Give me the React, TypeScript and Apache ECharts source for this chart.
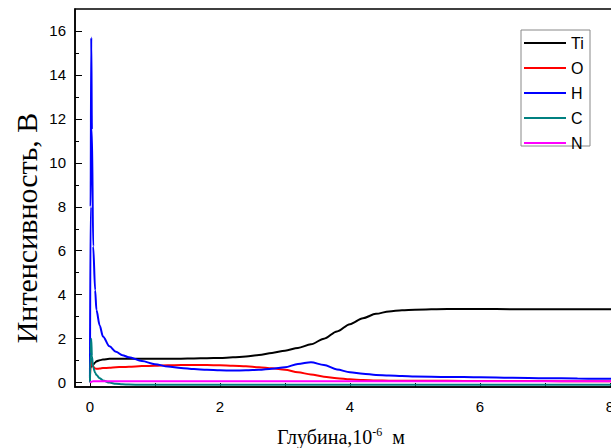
import React, { useEffect, useRef } from "react";
import * as echarts from "echarts";

// Depth, 10^-6 m
const depth = [
  0, 0.01, 0.02, 0.03, 0.05, 0.08, 0.1, 0.15, 0.2, 0.3, 0.4, 0.5, 0.6, 0.8,
  1.0, 1.2, 1.4, 1.6, 1.8, 2.0, 2.2, 2.4, 2.6, 2.8, 3.0, 3.2, 3.4, 3.6, 3.8, 4.0,
  4.2, 4.4, 4.6, 4.8, 5.0, 5.5, 6.0, 6.5, 7.0, 7.5, 8.0, 8.3,
];

const tiValues = [
  0.7, 0.7, 0.72, 0.75, 0.82, 0.92, 0.97, 1.02, 1.05, 1.08, 1.09, 1.09, 1.09, 1.09,
  1.09, 1.09, 1.09, 1.1, 1.11, 1.12, 1.15, 1.19, 1.26, 1.35, 1.45, 1.58, 1.74, 2.0, 2.33, 2.66,
  2.93, 3.13, 3.24, 3.29, 3.32, 3.35, 3.35, 3.34, 3.34, 3.34, 3.34, 3.34,
];

const oValues = [
  0.3, 0.7, 1.0, 0.9, 0.72, 0.64, 0.63, 0.64, 0.66, 0.68, 0.7, 0.71, 0.72, 0.75,
  0.77, 0.79, 0.8, 0.8, 0.8, 0.79, 0.77, 0.74, 0.7, 0.65, 0.59, 0.47, 0.37, 0.27, 0.2, 0.15,
  0.12, 0.1, 0.09, 0.085, 0.08, 0.08, 0.07, 0.07, 0.07, 0.06, 0.06, 0.06,
];

const hValues = [
  0.2, 8.0, 15.7, 11.5, 6.2, 4.2, 3.3, 2.6, 2.1, 1.65, 1.4, 1.25, 1.15, 0.98,
  0.84, 0.73, 0.67, 0.62, 0.58, 0.56, 0.55, 0.56, 0.58, 0.63, 0.7, 0.85, 0.93, 0.8, 0.6, 0.47,
  0.4, 0.35, 0.32, 0.3, 0.28, 0.26, 0.24, 0.22, 0.2, 0.19, 0.17, 0.16,
];

const cValues = [
  0.0, 1.3, 2.0, 1.2, 0.7, 0.45, 0.35, 0.2, 0.1, 0.0, -0.05, -0.08, -0.09, -0.1,
  -0.1, -0.1, -0.1, -0.1, -0.1, -0.1, -0.1, -0.1, -0.1, -0.1, -0.1, -0.1, -0.1, -0.1, -0.1, -0.1,
  -0.1, -0.1, -0.1, -0.1, -0.1, -0.1, -0.1, -0.1, -0.1, -0.1, -0.1, -0.1,
];

const nValues = [
  0.0, 0.02, 0.04, 0.05, 0.06, 0.06, 0.06, 0.06, 0.06, 0.06, 0.06, 0.06, 0.06, 0.06,
  0.06, 0.06, 0.06, 0.06, 0.06, 0.06, 0.06, 0.06, 0.06, 0.06, 0.06, 0.06, 0.06, 0.06, 0.06, 0.06,
  0.06, 0.06, 0.06, 0.06, 0.06, 0.06, 0.06, 0.06, 0.06, 0.06, 0.06, 0.06,
];

const seriesNames = ["Ti", "O", "H", "C", "N"];
const seriesColors = ["#000000", "#ff0000", "#0000ff", "#008080", "#ff00ff"];
const seriesValues = [tiValues, oValues, hValues, cValues, nValues];

const xTickValues = [0, 1, 2, 3, 4, 5, 6, 7, 8];
const xLabelValues = [0, 2, 4, 6, 8];
const yLabelValues = [0, 2, 4, 6, 8, 10, 12, 14, 16];
const yMinorValues = [1, 3, 5, 7, 9, 11, 13, 15];

const xTitle = "Глубина,10";
const xTitleSup = "-6";
const xTitleUnit = "  м";
const yTitle = "Интенсивность, В";

export default function App() {
  const ref = useRef<HTMLDivElement>(null);

  useEffect(() => {
    if (!ref.current) return;
    const chart = echarts.init(ref.current, undefined, { renderer: "svg" });
    const labelFont = { fontFamily: "Liberation Sans", fontSize: 15, color: "#000" };

    chart.setOption({
      animation: false,
      backgroundColor: "#fff",
      grid: {
        left: 75,
        top: 9,
        width: 554.5,
        height: 378,
        show: true,
        borderColor: "#000",
        borderWidth: 1.5,
        containLabel: false,
      },
      xAxis: {
        type: "value",
        min: -0.23,
        max: 8.3,
        axisLine: { show: true, onZero: false, lineStyle: { color: "#000", width: 1.5 } },
        axisTick: {
          show: true,
          inside: true,
          length: 4,
          customValues: xTickValues,
          lineStyle: { color: "#000", width: 1 },
        },
        axisLabel: { ...labelFont, margin: 12, customValues: xLabelValues },
        splitLine: { show: false },
      },
      yAxis: [
        {
          type: "value",
          min: -0.2,
          max: 17,
          axisLine: { show: true, onZero: false, lineStyle: { color: "#000", width: 1.5 } },
          axisTick: {
            show: true,
            inside: true,
            length: 7,
            customValues: yLabelValues,
            lineStyle: { color: "#000", width: 1 },
          },
          axisLabel: { ...labelFont, margin: 9, customValues: yLabelValues },
          splitLine: { show: false },
        },
        {
          type: "value",
          min: -0.2,
          max: 17,
          position: "left",
          axisLine: { show: false, onZero: false },
          axisTick: {
            show: true,
            inside: true,
            length: 4,
            customValues: yMinorValues,
            lineStyle: { color: "#000", width: 1 },
          },
          axisLabel: { show: false },
          splitLine: { show: false },
        },
      ],
      legend: {
        data: seriesNames,
        orient: "vertical",
        left: 523,
        top: 35,
        itemWidth: 42,
        itemHeight: 14,
        itemGap: 9,
        padding: 0,
        itemStyle: { opacity: 0, borderWidth: 0 },
        textStyle: { fontFamily: "Liberation Sans", fontSize: 16, color: "#000", padding: [0, 0, 0, 0] },
      },
      graphic: [
        {
          type: "rect",
          shape: { x: 521, y: 30, width: 69, height: 116 },
          style: { fill: "none", stroke: "#888", lineWidth: 1 },
          z: 1,
        },
        {
          type: "text",
          x: 26,
          y: 228,
          rotation: Math.PI / 2,
          style: {
            text: yTitle,
            fontFamily: "Liberation Serif",
            fontSize: 30,
            fill: "#000",
            align: "center",
            verticalAlign: "middle",
          },
        },
        {
          type: "text",
          x: 341,
          y: 437,
          style: {
            text: `${xTitle}{sup|${xTitleSup}}${xTitleUnit}`,
            fontFamily: "Liberation Serif",
            fontSize: 20,
            fill: "#000",
            align: "center",
            verticalAlign: "middle",
            rich: {
              sup: {
                fontFamily: "Liberation Serif",
                fontSize: 12,
                fill: "#000",
                verticalAlign: "top",
                padding: [0, 0, 10, 0],
              },
            },
          },
        },
      ],
      series: seriesNames.map((name, i) => ({
        name,
        type: "line",
        xAxisIndex: 0,
        yAxisIndex: 0,
        symbol: "none",
        smooth: 0.3,
        smoothMonotone: "x",
        lineStyle: { color: seriesColors[i], width: 2 },
        itemStyle: { color: seriesColors[i] },
        data: depth.map((d, j) => [d, seriesValues[i][j]]),
      })),
    });

    return () => chart.dispose();
  }, []);

  return (
    <div
      style={{
        position: "absolute",
        left: 0,
        top: 0,
        width: 611,
        height: 448,
        overflow: "hidden",
        background: "#fff",
      }}
    >
      <div ref={ref} style={{ width: 640, height: 448 }} />
    </div>
  );
}
